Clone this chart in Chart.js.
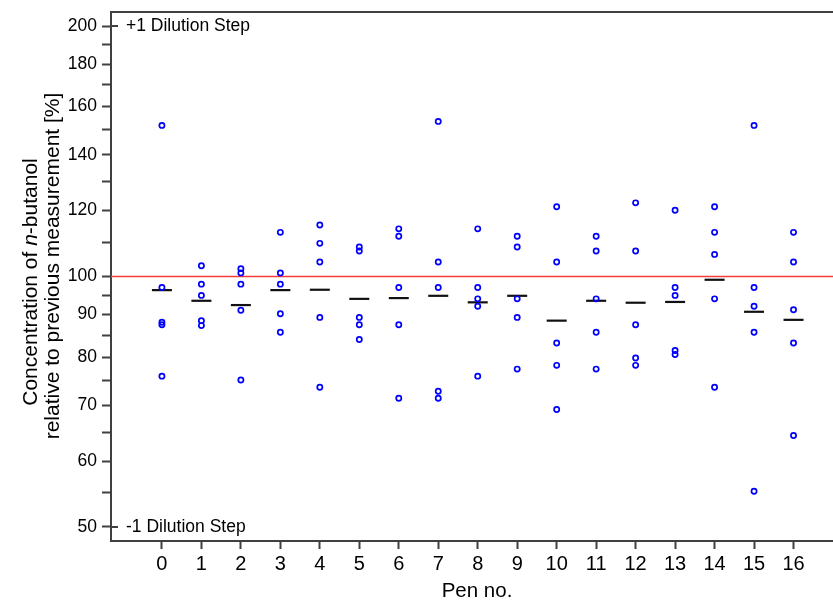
<!DOCTYPE html>
<html>
<head>
<meta charset="utf-8">
<script src="https://cdn.jsdelivr.net/npm/chart.js@4/dist/chart.umd.min.js"></script>
<style>
  body { margin: 0; background: #fff; }
</style>
</head>
<body>
<canvas id="chart" width="833" height="601"></canvas>
<script>
// pen numbers and the five readings per pen (sorted high to low), in % of the previous measurement
const pens = [0, 1, 2, 3, 4, 5, 6, 7, 8, 9, 10, 11, 12, 13, 14, 15, 16];
const first  = [151.9, 103.0, 102.2, 113.0, 115.3, 108.5, 114.1, 153.6, 114.1, 111.8, 121.3, 111.8, 122.6, 120.1, 121.3, 151.9, 113.0];
const second = [97.0, 97.9, 101.0, 101.0, 109.6, 107.3, 111.8, 104.1, 97.0, 108.5, 104.1, 107.3, 107.3, 97.0, 113.0, 97.0, 104.1];
const third  = [88.1, 94.9, 97.9, 97.9, 104.1, 89.3, 97.0, 97.0, 94.0, 94.0, 83.2, 94.0, 87.5, 94.9, 106.3, 92.1, 91.2];
const fourth = [87.5, 88.5, 91.1, 90.2, 89.3, 87.5, 87.5, 72.8, 92.1, 89.3, 78.2, 85.7, 79.8, 81.5, 94.0, 85.7, 83.2];
const fifth  = [75.9, 87.3, 75.1, 85.7, 73.6, 84.0, 71.4, 71.4, 75.9, 77.4, 69.2, 77.4, 78.2, 80.6, 73.6, 55.2, 64.4];
const means  = [96.3, 93.5, 92.4, 96.3, 96.4, 94.0, 94.2, 94.8, 93.1, 94.8, 88.5, 93.5, 93.0, 93.2, 99.1, 90.7, 88.7];

const yMajor = [50, 60, 70, 80, 90, 100, 120, 140, 160, 180, 200];
const yMinor = [55, 65, 75, 85, 95, 110, 130, 150, 170, 190];
const baseline = 100;

const xMin = -1.29, xMax = 17.0;
const yMin = 48.1, yMax = 207.9;

const axisColor = '#404040';
const family = '"Liberation Sans", Arial, Helvetica, sans-serif';
Chart.defaults.font.family = family;
Chart.defaults.color = '#000';

const readings = [];
[first, second, third, fourth, fifth].forEach(run => {
  run.forEach((v, i) => readings.push({ x: pens[i], y: v }));
});

// top frame line, dilution step notes and the rotated y title (with italic n)
const frame = {
  id: 'frame',
  afterDraw(chart) {
    const { ctx, chartArea: area, scales: { y } } = chart;
    ctx.save();
    ctx.strokeStyle = axisColor;
    ctx.lineWidth = 2;
    ctx.beginPath();
    ctx.moveTo(area.left - 1, area.top);
    ctx.lineTo(area.right, area.top);
    [200, 50].forEach(v => {
      const py = y.getPixelForValue(v);
      ctx.moveTo(area.left, py);
      ctx.lineTo(area.left + 7, py);
    });
    ctx.stroke();

    ctx.fillStyle = '#000';
    ctx.font = '17.5px ' + family;
    ctx.textBaseline = 'middle';
    ctx.fillText('+1 Dilution Step', area.left + 15, y.getPixelForValue(200));
    ctx.fillText('-1 Dilution Step', area.left + 15, y.getPixelForValue(50));

    ctx.textBaseline = 'alphabetic';
    ctx.textAlign = 'center';
    ctx.font = '20.5px ' + family;
    ctx.fillText('Pen no.', (area.left + area.right) / 2 + 5, 597);

    const normal = '21px ' + family;
    const italic = 'italic 21px ' + family;
    const lines = [
      { base: 37, mid: 282, parts: [['Concentration of ', normal], ['n', italic], ['-butanol', normal]] },
      { base: 59, mid: 266, parts: [['relative to previous measurement [%]', normal]] }
    ];
    ctx.textAlign = 'left';
    lines.forEach(line => {
      let total = 0;
      line.parts.forEach(([t, f]) => { ctx.font = f; total += ctx.measureText(t).width; });
      ctx.save();
      ctx.translate(line.base, line.mid);
      ctx.rotate(-Math.PI / 2);
      let px = -total / 2;
      line.parts.forEach(([t, f]) => {
        ctx.font = f;
        ctx.fillText(t, px, 0);
        px += ctx.measureText(t).width;
      });
      ctx.restore();
    });
    ctx.restore();
  }
};

new Chart(document.getElementById('chart'), {
  type: 'scatter',
  data: {
    datasets: [
      {
        type: 'line',
        data: [{ x: xMin, y: baseline }, { x: xMax, y: baseline }],
        borderColor: 'rgb(245, 60, 60)',
        borderWidth: 1.6,
        pointRadius: 0,
        order: 3
      },
      {
        data: readings,
        pointStyle: 'circle',
        pointRadius: 2.6,
        borderWidth: 1.7,
        borderColor: '#0000ff',
        backgroundColor: 'rgba(255,255,255,0)',
        order: 1
      },
      {
        data: pens.map((p, i) => ({ x: p, y: means[i] })),
        pointStyle: 'line',
        pointRadius: 10,
        borderWidth: 2.2,
        borderColor: '#111',
        order: 2
      }
    ]
  },
  options: {
    responsive: false,
    animation: false,
    events: [],
    layout: { autoPadding: false, padding: { top: 12, right: 0, bottom: 0, left: 0 } },
    plugins: { legend: { display: false }, tooltip: { enabled: false } },
    scales: {
      x: {
        type: 'linear',
        min: xMin,
        max: xMax,
        afterBuildTicks: s => { s.ticks = pens.map(v => ({ value: v })); },
        afterFit: s => { s.height = 60; s.paddingLeft = 0; s.paddingRight = 0; },
        border: { color: axisColor, width: 2 },
        grid: { drawOnChartArea: false, color: axisColor, tickLength: 8, tickWidth: 2 },
        ticks: { font: { size: 20 }, padding: 3, maxRotation: 0, autoSkip: false }
      },
      y: {
        type: 'logarithmic',
        min: yMin,
        max: yMax,
        afterBuildTicks: s => {
          s.ticks = [...yMajor, ...yMinor].sort((a, b) => a - b).map(v => ({ value: v, major: yMajor.includes(v) }));
        },
        afterFit: s => { s.width = 111; s.paddingTop = 0; s.paddingBottom = 0; },
        border: { color: axisColor, width: 2 },
        grid: { drawOnChartArea: false, color: axisColor, tickLength: 9, tickWidth: 2 },
        ticks: {
          font: { size: 17.5 },
          padding: 5,
          autoSkip: false,
          callback: v => yMajor.includes(v) ? String(v) : ''
        }
      }
    }
  },
  plugins: [frame]
});
</script>
</body>
</html>
